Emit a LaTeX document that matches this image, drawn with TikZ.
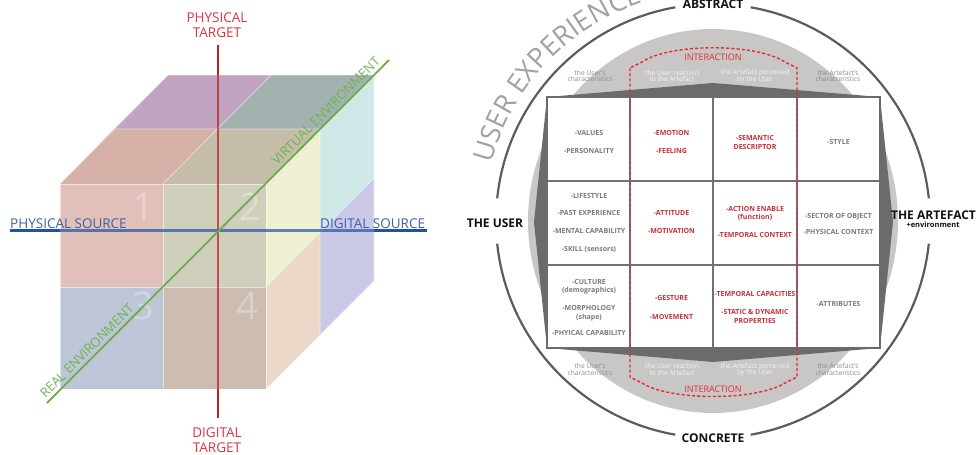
\documentclass[tikz,border=0pt]{standalone}
\usepackage{fontspec}
\setmainfont{Open Sans}
\usetikzlibrary{decorations.text}
\definecolor{cTBL}{HTML}{C1A5C0}
\definecolor{cTBR}{HTML}{A3B1B0}
\definecolor{cTFL}{HTML}{D6B1A7}
\definecolor{cTFR}{HTML}{C4BDA7}
\definecolor{cFTL}{HTML}{E2C0BA}
\definecolor{cFTR}{HTML}{D0CFBB}
\definecolor{cFBL}{HTML}{BEC5D6}
\definecolor{cFBR}{HTML}{CCBDB0}
\definecolor{cRTF}{HTML}{EFF0D2}
\definecolor{cRTB}{HTML}{D1E8E9}
\definecolor{cRBB}{HTML}{CACAE6}
\definecolor{cRBF}{HTML}{ECD8C9}
\definecolor{axred}{HTML}{C0212B}
\definecolor{axblue}{HTML}{2152A3}
\definecolor{axgreen}{HTML}{6AB04A}
\definecolor{lbred}{HTML}{D93540}
\definecolor{lbblue}{HTML}{3B61AA}
\definecolor{lbgreen}{HTML}{6DB552}
\definecolor{ltgray}{HTML}{C8C7C6}
\definecolor{dkgray}{HTML}{6B6B6B}
\definecolor{rim}{HTML}{5C5C5C}
\definecolor{cgray}{HTML}{7A7A7A}
\definecolor{cred}{HTML}{C6303A}
\definecolor{ired}{HTML}{E42A33}
\definecolor{tgray}{HTML}{8C8C8C}
\definecolor{twhite}{HTML}{F4F4F4}
\definecolor{uxgray}{HTML}{A2A2A2}
\begin{document}
\begin{tikzpicture}[x=1pt,y=-1pt,
  axlbl/.style={font=\fontsize{13.5}{15}\selectfont, inner sep=0pt, align=center},
  envlbl/.style={font=\fontsize{13}{15}\selectfont, inner sep=0pt, text=lbgreen, rotate=45},
  numlbl/.style={font=\fontsize{38}{40}\selectfont, text=white, text opacity=0.3, inner sep=0pt},
  edge/.style={white, opacity=0.55, line width=0.7pt},
  cg/.style={font=\fontsize{7}{8}\selectfont\bfseries, text=cgray, inner sep=0pt, anchor=base},
  cr/.style={cg, text=cred},
  gl/.style={font=\fontsize{6.7}{8}\selectfont, inner sep=0pt, align=center},
  side/.style={font=\fontsize{12}{14}\selectfont\bfseries, text=black!93, inner sep=0pt, anchor=base},
  rimline/.style={rim, line width=2.2pt},
  gridline/.style={draw=dkgray!95, line width=2pt},
  inter/.style={ired, dashed, dash pattern=on 3pt off 2.2pt, line width=1.4pt}
]
\useasboundingbox (0,0) rectangle (980,455);

% ---------------- cube ----------------
\fill[cTBL] (114,129) -- (168,75) -- (271,75) -- (217,129) -- cycle;
\fill[cTBR] (217,129) -- (271,75) -- (374,75) -- (320,129) -- cycle;
\fill[cTFL] (60,184) -- (114,129) -- (217,129) -- (163,184) -- cycle;
\fill[cTFR] (163,184) -- (217,129) -- (320,129) -- (266,184) -- cycle;
\fill[cFTL] (60,184) rectangle (163,287);
\fill[cFTR] (163,184) rectangle (266,287);
\fill[cFBL] (60,287) rectangle (163,389);
\fill[cFBR] (163,287) rectangle (266,389);
\fill[cRTF] (266,184) -- (320,129) -- (320,232) -- (266,287) -- cycle;
\fill[cRTB] (320,129) -- (374,75) -- (374,178) -- (320,232) -- cycle;
\fill[cRBB] (320,232) -- (374,178) -- (374,281) -- (320,335) -- cycle;
\fill[cRBF] (266,287) -- (320,232) -- (320,335) -- (266,389) -- cycle;
\draw[edge] (60,184) rectangle (266,389) (163,184) -- (163,389) (60,287) -- (266,287);
\draw[edge] (60,184) -- (168,75) -- (374,75) -- (374,281) -- (266,389);
\draw[edge] (266,184) -- (374,75) (114,129) -- (320,129) -- (320,335) (163,184) -- (271,75) (266,287) -- (374,178);

\node[numlbl] (n1) at (143,207) {1};
\node[numlbl] (n2) at (250,207) {2};
\node[numlbl] (n3) at (143,306) {3};
\node[numlbl] (n4) at (247,306) {4};

% axes
\coordinate (rt) at (218,45);
\coordinate (rt2) at (218,75);
\coordinate (rb2) at (218,389);
\coordinate (rb) at (218,418);
\draw[axred, line width=2.8pt] (rt) -- (rt2);
\draw[axred, line width=2.8pt, opacity=0.75] (rt2) -- (rb2);
\draw[axred, line width=2.8pt] (rb2) -- (rb);
\coordinate (bl) at (10,230.5);
\coordinate (bl2) at (60,230.5);
\coordinate (br2) at (374,230.5);
\coordinate (br) at (427,230.5);
\draw[axblue, line width=2.8pt] (bl) -- (bl2);
\draw[axblue, line width=2.8pt, opacity=0.7] (bl2) -- (br2);
\draw[axblue, line width=2.8pt] (br2) -- (br);
\coordinate (gl1) at (47,403);
\coordinate (gl2) at (389,60);
\draw[axgreen, line width=1.8pt] (gl1) -- (gl2);

\node[axlbl, text=lbred] (pt) at (217,25) {PHYSICAL\\[-0.5pt]TARGET};
\node[axlbl, text=lbred] (dt) at (217,440) {DIGITAL\\[-0.5pt]TARGET};
\node[axlbl, text=lbblue, anchor=base west] (ps) at (10,228) {PHYSICAL SOURCE};
\node[axlbl, text=lbblue, anchor=base west] (ds) at (320,228) {DIGITAL SOURCE};
\node[envlbl] (ve) at (325.8,110.8) {VIRTUAL ENVIRONMENT};
\node[envlbl] (re) at (86.8,350.8) {REAL ENVIRONMENT};

% ---------------- right diagram ----------------
\coordinate (c) at (713,221);
\fill[ltgray] (c) ellipse[x radius=185, y radius=192];
\fill[dkgray] (547,97) -- (713,83) -- (880,97) -- (893,222) -- (880,348) -- (713,362) -- (547,348) -- (534,222) -- cycle;
\fill[white] (547,97) rectangle (880,348);
\draw[gridline] (630,97) -- (630,348) (713,97) -- (713,348) (797,97) -- (797,348)
  (547,181) -- (880,181) (547,265) -- (880,265);
\draw[dkgray, line width=2.6pt] (547,97) rectangle (880,348);

\draw[inter] (630,68) -- (630,377) -- (642,383) .. controls (670,401) and (756,401) .. (785,383)
  -- (797,377) -- (797,68) -- (785,62) .. controls (756,43) and (670,43) .. (642,62) -- cycle;

\node[font=\fontsize{9}{10}\selectfont, text=ired, inner sep=0pt] (it) at (713,57) {INTERACTION};
\node[font=\fontsize{9}{10}\selectfont, text=ired, inner sep=0pt] (ib) at (713,389) {INTERACTION};

\node[gl, text=tgray] (t1) at (590,76) {the User's\\[-1.5pt]characteristics};
\node[gl, text=twhite] (t2) at (672,76) {the User reaction\\[-1.5pt]to the Artefact};
\node[gl, text=twhite] (t3) at (755,76) {the Artefact perceived\\[-1.5pt]by the User};
\node[gl, text=tgray] (t4) at (838,76) {the Artefact's\\[-1.5pt]characteristics};
\node[gl, text=tgray] (b1) at (590,369.5) {the User's\\[-1.5pt]characteristics};
\node[gl, text=twhite] (b2) at (672,369.5) {the User reaction\\[-1.5pt]to the Artefact};
\node[gl, text=twhite] (b3) at (755,369.5) {the Artefact perceived\\[-1.5pt]by the User};
\node[gl, text=tgray] (b4) at (838,369.5) {the Artefact's\\[-1.5pt]characteristics};

% cells row 1
\node[cg] (a1) at (589,135.3) {-VALUES};
\node[cg] (a2) at (589,153.3) {-PERSONALITY};
\node[cr] (a3) at (671.5,135.3) {-EMOTION};
\node[cr] (a4) at (671.5,153.3) {-FEELING};
\node[cr] (a5) at (755,140.3) {-SEMANTIC};
\node[cr] (a6) at (755,149.3) {DESCRIPTOR};
\node[cg] (a7) at (838.5,144.3) {-STYLE};
% row 2
\node[cg] (m1) at (589,198.3) {-LIFESTYLE};
\node[cg] (m2) at (589,215.3) {-PAST EXPERIENCE};
\node[cg] (m3) at (589,233.3) {-MENTAL CAPABILITY};
\node[cg] (m4) at (589,251.3) {-SKILL (sensors)};
\node[cr] (m5) at (671.5,215.3) {-ATTITUDE};
\node[cr] (m6) at (671.5,233.3) {-MOTIVATION};
\node[cr] (m7) at (755,211.3) {-ACTION ENABLE};
\node[cr] (m8) at (755,219.5) {(function)};
\node[cr] (m9) at (755,237.3) {-TEMPORAL CONTEXT};
\node[cg] (m10) at (838.5,218.3) {-SECTOR OF OBJECT};
\node[cg] (m11) at (838.5,234.3) {-PHYSICAL CONTEXT};
% row 3
\node[cg] (z1) at (589,284.3) {-CULTURE};
\node[cg] (z2) at (589,292.5) {(demographics)};
\node[cg] (z3) at (589,310.3) {-MORPHOLOGY};
\node[cg] (z4) at (589,319) {(shape)};
\node[cg] (z5) at (589,335.3) {-PHYICAL CAPABILITY};
\node[cr] (z6) at (671.5,300.3) {-GESTURE};
\node[cr] (z7) at (671.5,319.3) {-MOVEMENT};
\node[cr] (z8) at (755,296.3) {-TEMPORAL CAPACITIES};
\node[cr] (z9) at (755,314.3) {-STATIC \& DYNAMIC};
\node[cr] (z10) at (755,323.3) {PROPERTIES};
\node[cg] (z11) at (838.5,306.3) {-ATTRIBUTES};

% outer circle with gaps
\draw[rimline] (c) ++(-80:217) arc[start angle=-80, end angle=-6, radius=217];
\draw[rimline] (c) ++(6:217) arc[start angle=6, end angle=80, radius=217];
\draw[rimline] (c) ++(100:217) arc[start angle=100, end angle=174, radius=217];
\draw[rimline] (c) ++(186:217) arc[start angle=186, end angle=260, radius=217];

\node[side] (abs) at (713,9) {ABSTRACT};
\node[side] (con) at (713,442) {CONCRETE};
\node[side] (usr) at (495,227) {THE USER};
\node[side] (art) at (933.5,219) {THE ARTEFACT};
\node[font=\fontsize{7.5}{8}\selectfont\bfseries, text=black!93, inner sep=0pt, anchor=base] (env) at (933,227) {+environment};

\path[decorate, decoration={text along path, text align=left,
  text={|\fontsize{27.5}{30}\selectfont\color{uxgray}|USER EXPERIENCE}}]
  (c) ++(-165.5:229) arc[start angle=-165.5, end angle=-50, radius=229];
\end{tikzpicture}
\end{document}
